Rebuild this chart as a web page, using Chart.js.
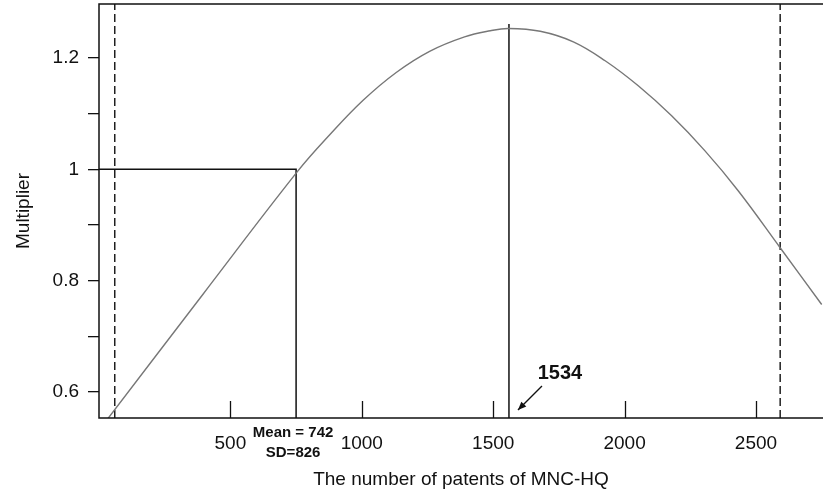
<!DOCTYPE html>
<html>
<head>
<meta charset="utf-8">
<script src="https://cdn.jsdelivr.net/npm/chart.js@4.4.0/dist/chart.umd.min.js"></script>
<style>
    body { margin: 0; background: #fff; }
    #wrap { width: 823px; height: 491px; }
</style>
</head>
<body>
<div id="wrap"><canvas id="multChart" width="823" height="491"></canvas></div>
<script>
//Values
const curveX = [34, 395, 757, 878, 1005, 1131, 1258, 1391, 1489, 1558, 1679, 1805, 1926, 2052, 2179, 2306, 2433, 2592, 2750];
const curveY = [0.552, 0.775, 0.997, 1.062, 1.124, 1.174, 1.212, 1.238, 1.249, 1.253, 1.248, 1.229, 1.195, 1.150, 1.096, 1.033, 0.961, 0.859, 0.757];
const meanX = 750;
const meanY = 1;
const peakX = 1560;
const peakTop = 1.261;
const dashedX = [60, 2592];
const xTicks = [500, 1000, 1500, 2000, 2500];
const yTicks = [0.6, 0.7, 0.8, 0.9, 1.0, 1.1, 1.2];
const yLabels = ['0.6', '', '0.8', '', '1', '', '1.2'];
const xMin = 0, xMax = 2755;
const yMin = 0.553, yMax = 1.297;

const meanLabel = ['Mean = 742', 'SD=826'];
const peakLabel = '1534';

const fontFamily = '"Liberation Sans", Arial, Helvetica, sans-serif';

const curvePoints = curveX.map((x, i) => ({ x: x, y: curveY[i] }));

function vLine(x, top) {
    return [{ x: x, y: yMin }, { x: x, y: top }];
}

//Frame, inward x ticks and the text notes
const extras = {
    id: 'extras',
    afterDraw(chart) {
        const ctx = chart.ctx;
        const area = chart.chartArea;
        const xs = chart.scales.x;
        ctx.save();
        ctx.strokeStyle = '#111';
        ctx.lineWidth = 1.5;
        ctx.beginPath();
        ctx.moveTo(area.right + 2, area.top);
        ctx.lineTo(area.left, area.top);
        ctx.lineTo(area.left, area.bottom);
        ctx.lineTo(area.right + 2, area.bottom);
        ctx.stroke();

        ctx.lineWidth = 1.3;
        xTicks.forEach(t => {
            const px = Math.round(xs.getPixelForValue(t)) + 0.5;
            ctx.beginPath();
            ctx.moveTo(px, area.bottom);
            ctx.lineTo(px, area.bottom - 17);
            ctx.stroke();
        });

        //mean / SD note
        const mx = xs.getPixelForValue(meanX);
        ctx.fillStyle = '#111';
        ctx.font = 'bold 15px ' + fontFamily;
        ctx.textAlign = 'center';
        ctx.textBaseline = 'alphabetic';
        ctx.fillText(meanLabel[0], mx - 3, area.bottom + 19);
        ctx.fillText(meanLabel[1], mx - 3, area.bottom + 39);

        //peak note with arrow
        const px = xs.getPixelForValue(peakX);
        ctx.font = 'bold 20px ' + fontFamily;
        ctx.fillText(peakLabel, px + 51, area.bottom - 39);
        const tailX = px + 33, tailY = area.bottom - 32;
        const tipX = px + 9, tipY = area.bottom - 8;
        ctx.lineWidth = 1.3;
        ctx.beginPath();
        ctx.moveTo(tailX, tailY);
        ctx.lineTo(tipX, tipY);
        ctx.stroke();
        const ang = Math.atan2(tipY - tailY, tipX - tailX);
        ctx.beginPath();
        ctx.moveTo(tipX, tipY);
        ctx.lineTo(tipX - 9 * Math.cos(ang - 0.4), tipY - 9 * Math.sin(ang - 0.4));
        ctx.lineTo(tipX - 9 * Math.cos(ang + 0.4), tipY - 9 * Math.sin(ang + 0.4));
        ctx.closePath();
        ctx.fill();
        ctx.restore();
    }
};

const multChart = new Chart(
    document.getElementById('multChart'),
    {
        type: 'line',
        data: {
            datasets: [
                {
                    label: 'Multiplier',
                    data: curvePoints,
                    borderColor: '#777',
                    borderWidth: 1.4,
                    tension: 0.4,
                    pointRadius: 0,
                },
                {
                    label: 'Mean',
                    data: [{ x: xMin, y: meanY }, { x: meanX, y: meanY }, { x: meanX, y: yMin }],
                    borderColor: '#111',
                    borderWidth: 1.5,
                    pointRadius: 0,
                },
                {
                    label: 'Peak',
                    data: vLine(peakX, peakTop),
                    borderColor: '#111',
                    borderWidth: 1.5,
                    pointRadius: 0,
                },
                {
                    label: 'Low',
                    data: vLine(dashedX[0], yMax),
                    borderColor: '#111',
                    borderWidth: 1.4,
                    borderDash: [8, 4],
                    pointRadius: 0,
                },
                {
                    label: 'High',
                    data: vLine(dashedX[1], yMax),
                    borderColor: '#111',
                    borderWidth: 1.4,
                    borderDash: [8, 4],
                    pointRadius: 0,
                },
            ]
        },
        options: {
            responsive: false,
            animation: false,
            layout: { padding: { top: 4, right: 0, bottom: 0, left: 0 } },
            scales: {
                x: {
                    type: 'linear',
                    min: xMin,
                    max: xMax,
                    afterFit: s => { s.height = 73; s.paddingLeft = 0; s.paddingRight = 0; },
                    afterBuildTicks: s => { s.ticks = xTicks.map(v => ({ value: v })); },
                    grid: { display: false, drawTicks: false },
                    border: { display: false },
                    ticks: {
                        padding: 14,
                        color: '#111',
                        font: { family: fontFamily, size: 19 },
                        maxRotation: 0,
                        callback: v => String(v),
                    },
                    title: {
                        display: true,
                        text: 'The number of patents of MNC-HQ',
                        color: '#111',
                        font: { family: fontFamily, size: 19 },
                        padding: 0,
                    }
                },
                y: {
                    min: yMin,
                    max: yMax,
                    afterFit: s => { s.width = 99; s.paddingTop = 0; s.paddingBottom = 0; },
                    afterBuildTicks: s => { s.ticks = yTicks.map(v => ({ value: v })); },
                    grid: {
                        drawOnChartArea: false,
                        drawTicks: true,
                        tickLength: 11,
                        color: '#111',
                        lineWidth: 1.3,
                    },
                    border: { display: false },
                    ticks: {
                        padding: 9,
                        color: '#111',
                        font: { family: fontFamily, size: 19 },
                        callback: (v, i) => yLabels[i],
                    },
                    title: {
                        display: true,
                        text: 'Multiplier',
                        color: '#111',
                        font: { family: fontFamily, size: 19 },
                        padding: { top: 12, bottom: 0 },
                    }
                }
            },
            plugins: {
                legend: { display: false },
                tooltip: { enabled: false },
            },
        },
        plugins: [extras]
    }
);
</script>
</body>
</html>
